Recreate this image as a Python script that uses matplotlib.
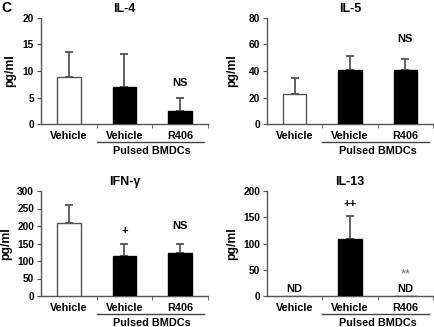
"""
Panel C: cytokines (IL-4, IL-5, IFN-g, IL-13) - bar charts with error bars
"""
import numpy as np
import matplotlib
matplotlib.use('Agg')
import matplotlib.pyplot as plt
import matplotlib.transforms as mtransforms

plt.rcParams['font.family'] = ['Liberation Sans', 'DejaVu Sans']
plt.rcParams['font.weight'] = 'bold'

## DATOS
groups = ['Vehicle', 'Vehicle', 'R406']
group_label = 'Pulsed BMDCs'
bar_colors = ['white', 'black', 'black']

il4_mean = [8.9, 7.0, 2.5]
il4_err = [4.7, 6.2, 2.4]
il5_mean = [22.6, 40.8, 41.0]
il5_err = [11.9, 10.2, 8.0]
ifn_mean = [210, 114, 123]
ifn_err = [51, 35, 26]
il13_mean = [0, 108.6, 0]
il13_err = [0, 43, 0]

titles = ['IL-4', 'IL-5', 'IFN-\u03b3', 'IL-13']
ylims = [20, 80, 300, 200]
ysteps = [5, 20, 50, 50]

# anotaciones: (panel, posicion x, valor y, texto, estilo)
notes = [
    (0, 2, 7.7, 'NS', 'bold'),
    (1, 2, 64, 'NS', 'bold'),
    (2, 1, 186, '+', 'bold'),
    (2, 2, 200, 'NS', 'bold'),
    (3, 1, 176, '++', 'bold'),
    (3, 2, 42, '**', 'normal'),
    (3, 0, 14, 'ND', 'bold'),
    (3, 2, 14, 'ND', 'bold'),
]

means = [il4_mean, il5_mean, ifn_mean, il13_mean]
errs = [il4_err, il5_err, ifn_err, il13_err]

## FIGURA
W, H = 435, 327
fig = plt.figure(figsize=(W / 100, H / 100), dpi=100)

# posiciones de los ejes en pixeles (izq, arriba, der, abajo)
boxes = [(41, 18, 208, 124), (267, 18, 433, 124),
         (41, 191, 208, 296), (267, 191, 433, 296)]
# posicion x (pixeles) del borde derecho de la etiqueta "pg/ml"
ylab_x = [16, 238, 12, 238]

axes = []
for i, (l, t, r, b) in enumerate(boxes):
    ax = fig.add_axes([l / W, 1 - b / H, (r - l) / W, (b - t) / H])
    axes.append(ax)
    x = np.arange(len(groups))
    m = np.array(means[i], dtype=float)
    e = np.array(errs[i], dtype=float)
    ax.bar(x, m, width=0.42, color=bar_colors,
           edgecolor=['#555555', 'black', 'black'], linewidth=1.0, zorder=3)
    show = e > 0
    ax.errorbar(x[show], m[show], yerr=[np.zeros(show.sum()), e[show]],
                fmt='none', ecolor='#555555', elinewidth=1.3,
                capsize=3, capthick=1.3, zorder=2)
    ax.set_xlim(-0.5, 2.5)
    ax.set_ylim(0, ylims[i])
    ax.set_yticks(np.arange(0, ylims[i] + 1, ysteps[i]))
    ax.set_xticks(x)
    ax.set_xticklabels(groups, fontsize=7.8, fontweight='bold')
    ax.set_xticks([0.5, 1.5, 2.5], minor=True)
    ax.tick_params(axis='x', which='major', length=0, pad=5)
    ax.tick_params(axis='x', which='minor', length=3, direction='out',
                   color='#555555')
    ax.tick_params(axis='y', length=3, direction='out', labelsize=7.3,
                   color='#555555', pad=2)
    for lab in ax.get_yticklabels():
        lab.set_fontweight('bold')
    for s in ['top', 'right']:
        ax.spines[s].set_visible(False)
    for s in ['left', 'bottom']:
        ax.spines[s].set_color('#555555')
        ax.spines[s].set_linewidth(1.0)
    ax.set_title(titles[i], fontsize=9, fontweight='bold', pad=4)
    ax.set_ylabel('pg/ml', fontsize=8.8, fontweight='bold')
    ax.yaxis.set_label_coords((ylab_x[i] - l) / (r - l), 0.5)

    # linea y etiqueta de "Pulsed BMDCs"
    trans = mtransforms.blended_transform_factory(ax.transData, ax.transAxes)
    hpx = b - t
    ax.plot([0.5, 2.42], [-18 / hpx, -18 / hpx], color='#444444', lw=1.0,
            transform=trans, clip_on=False)
    ax.text(1.5, -27 / hpx, group_label, transform=trans, ha='center',
            va='center', fontsize=7.8, fontweight='bold')

for p, xi, yv, txt, wt in notes:
    col = '#666666' if wt == 'normal' else 'black'
    size = 9 if wt == 'normal' else 8
    axes[p].text(xi, yv, txt, ha='center', va='center', fontsize=size,
                 fontweight=wt, color=col, zorder=5)

fig.text(6 / W, 1 - 8 / H, 'C', fontsize=10, fontweight='bold',
         ha='center', va='center')

fig.savefig('out.png', dpi=100)
